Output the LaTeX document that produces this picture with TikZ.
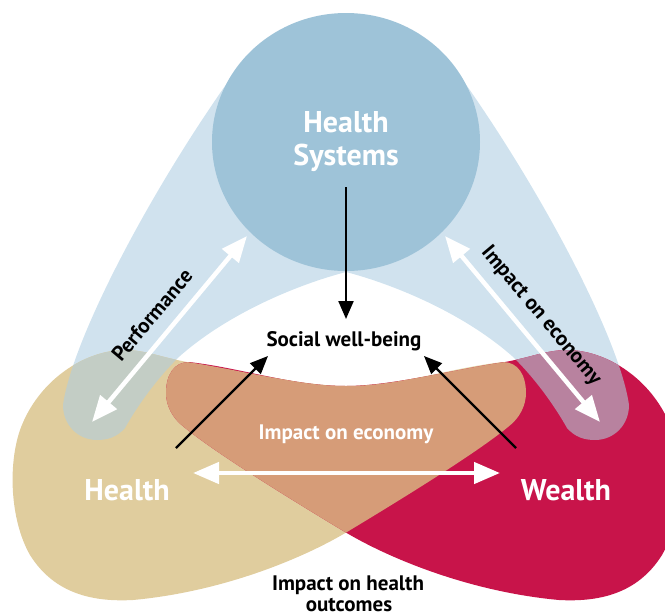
\documentclass[tikz,border=0pt]{standalone}
\usepackage{fontspec}
\setmainfont{PT Sans}
\usetikzlibrary{arrows.meta}
\definecolor{lblue}{HTML}{D0E2EE}
\definecolor{cblue}{HTML}{9EC3D8}
\definecolor{tanc}{HTML}{E0CD9E}
\definecolor{crim}{HTML}{C8144A}
\definecolor{orng}{HTML}{D69C78}
\definecolor{purp}{HTML}{B8829F}
\definecolor{ggreen}{HTML}{C3CDC5}
\def\tanpath{(133,600) .. controls (220,592) and (300,560) .. (347,532) .. controls (420,488) and (480,450) .. (508,427) .. controls (520,418) and (526,405) .. (526,393) .. controls (526,375) and (518,362) .. (503,362) .. controls (450,368) and (400,386) .. (346,386) .. controls (300,386) and (230,368) .. (187,362) .. controls (160,357) and (145,350) .. (125,350) .. controls (85,350) and (38,380) .. (20,430) .. controls (8,465) and (10,520) .. (30,555) .. controls (55,595) and (95,602) .. (133,600) -- cycle}
\def\bluepath{(346,272) .. controls (300,284) and (230,312) .. (180,356) .. controls (155,380) and (135,410) .. (125,428) .. controls (117,437) and (108,440) .. (97,440) .. controls (78,440) and (63,425) .. (63,405) .. controls (72,340) and (150,190) .. (237,69) -- (455,69) .. controls (542,190) and (620,340) .. (629,405) .. controls (629,425) and (614,440) .. (595,440) .. controls (584,440) and (575,437) .. (567,428) .. controls (557,410) and (537,380) .. (512,356) .. controls (462,312) and (392,284) .. (346,272) -- cycle}
\tikzset{
  mirror/.style={xshift=692pt, xscale=-1},
  whitearrow/.style={draw=white, line width=4.5pt, {Triangle[length=26pt,width=21pt]}-{Triangle[length=26pt,width=21pt]}},
  blackarrow/.style={draw=black, line width=2.2pt, -{Triangle[length=18pt,width=15pt]}},
  bigtext/.style={font=\bfseries\fontsize{30}{33}\selectfont, text=white, inner sep=0pt, anchor=base},
  midtext/.style={font=\bfseries\fontsize{21}{24}\selectfont, inner sep=0pt, anchor=base},
}
\begin{document}
\begin{tikzpicture}[x=1pt,y=-1pt]
\useasboundingbox (0,0) rectangle (665,614);
\clip (0,0) rectangle (665,614);
% shapes
\fill[lblue] \bluepath;
\fill[tanc] \tanpath;
\fill[crim, mirror] \tanpath;
\begin{scope}
  \clip \tanpath;
  \fill[orng, mirror] \tanpath;
\end{scope}
\begin{scope}
  \clip \bluepath;
  \fill[ggreen] \tanpath;
  \fill[purp, mirror] \tanpath;
\end{scope}
\fill[cblue] (346,142) ellipse [x radius=134pt, y radius=129pt];
% text
\node[bigtext] (hs1) at (346,132) {Health};
\node[bigtext] (hs2) at (346,165) {Systems};
\node[bigtext] (health) at (127,500) {Health};
\node[bigtext] (wealth) at (566,500) {Wealth};
\node[midtext] (swb) at (344,346) {Social well-being};
\node[midtext, text=white] (ime) at (346,439) {Impact on economy};
\node[midtext] (ih1) at (348,590) {Impact on health};
\node[midtext] (ih2) at (349,611) {outcomes};
\node[midtext, anchor=center, rotate=50] (perf) at (152,315) {Performance};
\node[midtext, anchor=center, rotate=-50] (ime2) at (541,316) {Impact on economy};
% arrows
\coordinate (hsout) at (346,187);
\coordinate (swbin) at (346,319);
\coordinate (hlout) at (176,448);
\coordinate (swbl) at (268,356);
\coordinate (wlout) at (516,448);
\coordinate (swbr) at (424,356);
\coordinate (hleft) at (193,473);
\coordinate (wright) at (500,473);
\coordinate (pl) at (92,422);
\coordinate (pu) at (247,236);
\coordinate (ru) at (445,236);
\coordinate (rl) at (600,422);
\draw[blackarrow] (hsout) -- (swbin);
\draw[blackarrow] (hlout) -- (swbl);
\draw[blackarrow] (wlout) -- (swbr);
\draw[whitearrow] (hleft) -- (wright);
\draw[whitearrow] (pl) -- (pu);
\draw[whitearrow] (ru) -- (rl);
\end{tikzpicture}
\end{document}
